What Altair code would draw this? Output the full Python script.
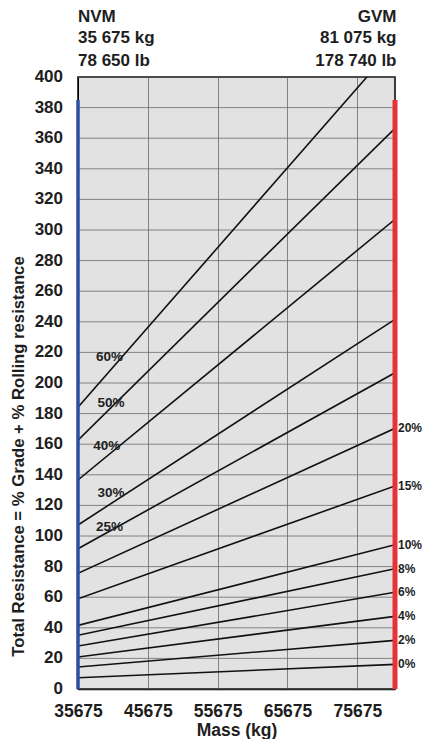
import altair as alt
import pandas as pd

grades = ["0%", "2%", "4%", "6%", "8%", "10%", "15%", "20%", "25%", "30%", "40%", "50%", "60%"]
left_vals = [7.4, 14.4, 20.9, 28.1, 35.1, 41.6, 59.0, 75.6, 91.7, 107.2, 136.6, 162.7, 184.1]
right_vals = [16.1, 31.8, 47.5, 63.2, 78.6, 94.3, 132.7, 170.4, 206.7, 241.6, 307.0, 366.5, 421.0]
nvm_kg = 35675
gvm_kg = 81075
right_label_grades = ["0%", "2%", "4%", "6%", "8%", "10%", "15%", "20%"]
left_label_text = ["60%", "50%", "40%", "30%", "25%"]
left_label_x = [40200, 40400, 39800, 40400, 40200]
left_label_y = [217, 187, 158.8, 128.3, 106]
x_ticks = [35675, 45675, 55675, 65675, 75675]
y_ticks = list(range(0, 401, 20))
marker_top = 385
header_left = ["NVM", "35 675 kg", "78 650 lb"]
header_right = ["GVM", "81 075 kg", "178 740 lb"]

FONT = "Liberation Sans"
TXT = "#1e1e1e"
GRID = "#6a6a6a"

rows = []
for g, lv, rv in zip(grades, left_vals, right_vals):
    rows.append({"grade": g, "mass": nvm_kg, "r": lv})
    rows.append({"grade": g, "mass": gvm_kg, "r": rv})
lines_df = pd.DataFrame(rows)

xs = alt.Scale(domain=[nvm_kg, gvm_kg], nice=False, zero=False)
ys = alt.Scale(domain=[0, 400], nice=False)

xax = alt.Axis(values=x_ticks, format="d", title="Mass (kg)", ticks=False, labelFlush=False, labelOverlap=False,
               labelPadding=13, labelFontSize=17.5, labelFont=FONT, labelFontWeight="bold", labelColor=TXT,
               titleFont=FONT, titleFontSize=17.5, titleFontWeight="bold", titleColor=TXT, titlePadding=2,
               grid=True, gridColor=GRID, gridWidth=0.8, domainColor="#000", domainWidth=1.5)
yax = alt.Axis(title="Total Resistance = % Grade + % Rolling resistance", ticks=False, labels=False, grid=False,
               titleFont=FONT, titleFontSize=16.7, titleFontWeight="bold", titleColor=TXT,
               titleX=-60, titleY=379, titleAngle=-90, titleAlign="center", titleBaseline="middle",
               domainColor="#000")


def X(field):
    return alt.X(field, type="quantitative", scale=xs, axis=xax)


def Y(field):
    return alt.Y(field, type="quantitative", scale=ys, axis=yax)


ticks_df = pd.DataFrame({"v": y_ticks, "pos": [nvm_kg] * len(y_ticks)})
hgrid = alt.Chart(ticks_df).mark_rule(color=GRID, strokeWidth=0.8).encode(y=Y("v"))
ylabels = alt.Chart(ticks_df).mark_text(align="right", baseline="middle", dx=-15, font=FONT, fontSize=17,
                                        fontWeight="bold", color=TXT).encode(
    x=X("pos"), y=Y("v"), text=alt.Text("v:Q", format="d"))

lines = alt.Chart(lines_df).mark_line(color="#111", strokeWidth=1.6, clip=True).encode(
    x=X("mass"), y=Y("r"), detail="grade:N",
)

markers_df = pd.DataFrame({"mass": [nvm_kg, gvm_kg], "lo": [0, 0], "hi": [marker_top, marker_top],
                           "who": ["NVM", "GVM"]})
markers = alt.Chart(markers_df).mark_rule().encode(
    x=X("mass"), y=Y("lo"), y2="hi:Q",
    color=alt.Color("who:N", scale=alt.Scale(domain=["NVM", "GVM"], range=["#2c4ea3", "#e8323a"]), legend=None),
    strokeWidth=alt.StrokeWidth("who:N", scale=alt.Scale(domain=["NVM", "GVM"], range=[3.5, 5]), legend=None),
)

rl = pd.DataFrame({"grade": grades, "r": right_vals})
rl = rl[rl["grade"].isin(right_label_grades)].copy()
rl["mass"] = gvm_kg
right_labels = alt.Chart(rl).mark_text(align="left", baseline="middle", dx=3, font=FONT, fontSize=12,
                                        fontWeight="bold", color=TXT).encode(
    x=X("mass"), y=Y("r"), text="grade:N")

ll = pd.DataFrame({"t": left_label_text, "mass": left_label_x, "r": left_label_y})
left_labels = alt.Chart(ll).mark_text(align="center", baseline="middle", font=FONT, fontSize=13.5,
                                       fontWeight="bold", color=TXT).encode(
    x=X("mass"), y=Y("r"), text="t:N")

hdr_offsets = [-60.5, -39, -16.5]
hl = pd.DataFrame({"t": header_left, "mass": [nvm_kg] * 3, "i": [0, 1, 2]})
hr = pd.DataFrame({"t": header_right, "mass": [gvm_kg] * 3, "i": [0, 1, 2]})
hdr_layers = []
for df, al in [(hl, "left"), (hr, "right")]:
    for i, off in enumerate(hdr_offsets):
        hdr_layers.append(
            alt.Chart(df[df["i"] == i]).mark_text(align=al, baseline="middle", font=FONT, fontSize=17,
                                                  fontWeight="bold", color=TXT, dx=(1.5 if al == "right" else 0)).encode(
                x=X("mass"), y=alt.value(off), text="t:N")
        )

chart = alt.layer(hgrid, lines, markers, ylabels, right_labels, left_labels, *hdr_layers).properties(
    width=317, height=612,
    background="white",
    autosize=alt.AutoSizeParams(type="none"),
    padding={"left": 70, "top": 69, "right": 27, "bottom": 50},
).configure_view(
    fill="#e2e2e2", stroke="#000", strokeWidth=1.5
)

chart.save("out.html", embed_options={"renderer": "svg", "actions": False})
